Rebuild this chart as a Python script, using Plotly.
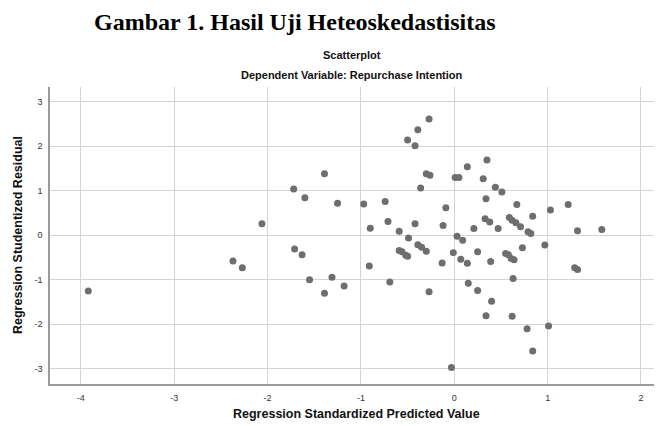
import plotly.graph_objects as go

# Regression Standardized Predicted Value (x) and Studentized Residual (y)
pred_values = [
    -3.92, -2.37, -2.27, -2.06, -1.72, -1.71, -1.63, -1.60, -1.55, -1.39,
    -1.39, -1.31, -1.25, -1.18, -0.97, -0.91, -0.90, -0.74, -0.71, -0.69,
    -0.59, -0.59, -0.56, -0.52, -0.50, -0.50, -0.49, -0.42, -0.42, -0.39,
    -0.39, -0.36, -0.35, -0.30, -0.30, -0.27, -0.27, -0.26, -0.13, -0.12,
    -0.09, -0.03, -0.01, 0.01, 0.03, 0.05, 0.07, 0.09, 0.14, 0.14,
    0.15, 0.21, 0.25, 0.25, 0.31, 0.33, 0.34, 0.34, 0.35, 0.38,
    0.39, 0.40, 0.44, 0.47, 0.51, 0.55, 0.58, 0.59, 0.61, 0.62,
    0.62, 0.63, 0.64, 0.66, 0.67, 0.71, 0.73, 0.78, 0.79, 0.82,
    0.84, 0.84, 0.97, 1.01, 1.03, 1.22, 1.29, 1.32, 1.32, 1.58,
]
resid_values = [
    -1.25, -0.58, -0.73, 0.26, 1.04, -0.31, -0.44, 0.84, -1.00, 1.38,
    -1.30, -0.94, 0.72, -1.14, 0.70, -0.69, 0.16, 0.76, 0.31, -1.05,
    0.09, -0.34, -0.37, -0.45, -0.47, 2.14, -0.06, 2.01, 0.26, 2.37,
    -0.21, 1.06, -0.27, 1.38, -0.36, 2.61, -1.27, 1.35, -0.62, 0.22,
    0.62, -2.97, -0.39, 1.30, -0.02, 1.30, -0.54, -0.11, 1.54, -0.63,
    -1.08, 0.15, -0.37, -1.24, 1.27, 0.37, 0.82, -1.81, 1.69, 0.30,
    -0.59, -1.48, 1.08, 0.15, 0.97, -0.41, -0.44, 0.40, -0.52, 0.34,
    -1.82, -0.97, -0.55, 0.28, 0.69, 0.19, -0.28, -2.10, 0.08, 0.04,
    0.43, -2.60, -0.22, -2.04, 0.57, 0.69, -0.73, -0.77, 0.10, 0.13,
]

x_tick_vals = [-4, -3, -2, -1, 0, 1, 2]
x_tick_text = ["-4", "-3", "-2", "-1", "0", "1", "2"]
y_tick_vals = [-3, -2, -1, 0, 1, 2, 3]
y_tick_text = ["-3", "-2", "-1", "0", "1", "2", "3"]

# page body has an 8px default margin; figure is sized to fit inside window
OFF = 8
W, H = 662 - OFF, 426 - OFF
PL, PR, PT, PB = 50 - OFF, 662 - OFF, 87 - OFF, 384 - OFF

fig = go.Figure()
fig.add_trace(go.Scatter(
    x=pred_values, y=resid_values, mode="markers",
    marker=dict(size=7, color="#6e6e6e", line=dict(width=0)),
    hoverinfo="x+y", showlegend=False,
))

grid_col = "#d4d4d4"
fig.update_xaxes(
    range=[-4.33, 2.225], tickvals=x_tick_vals, ticktext=x_tick_text,
    showgrid=True, gridcolor=grid_col, gridwidth=1.3, zeroline=False,
    showline=True, linecolor="#9a9a9a", linewidth=1.5,
    ticks="", ticklabelstandoff=4,
    tickfont=dict(family="Liberation Sans, Arial", size=9, color="#333333"),
)
fig.update_yaxes(
    range=[-3.34, 3.33], tickvals=y_tick_vals, ticktext=y_tick_text,
    showgrid=True, gridcolor=grid_col, gridwidth=1.3, zeroline=False,
    showline=True, linecolor="#9a9a9a", linewidth=1.5,
    ticks="", ticklabelstandoff=4,
    tickfont=dict(family="Liberation Sans, Arial", size=9, color="#333333"),
)

annotations = [
    dict(text="<b>Gambar 1. Hasil Uji Heteoskedastisitas</b>", x=295, y=22,
         font=dict(family="Liberation Serif, Times New Roman", size=24, color="#000000")),
    dict(text="<b>Scatterplot</b>", x=352, y=55,
         font=dict(family="Liberation Sans, Arial", size=11, color="#111111")),
    dict(text="<b>Dependent Variable: Repurchase Intention</b>", x=352, y=75,
         font=dict(family="Liberation Sans, Arial", size=11, color="#111111")),
    dict(text="<b>Regression Standardized Predicted Value</b>", x=356, y=414,
         font=dict(family="Liberation Sans, Arial", size=12.5, color="#111111")),
    dict(text="<b>Regression Studentized Residual</b>", x=18, y=235, textangle=-90,
         font=dict(family="Liberation Sans, Arial", size=12.5, color="#111111")),
]
for a in annotations:
    fx, fy = a["x"] - OFF, a["y"] - OFF
    fig.add_annotation(
        text=a["text"], xref="paper", yref="paper",
        x=(fx - PL) / (PR - PL), y=(PB - fy) / (PB - PT),
        xanchor="center", yanchor="middle", showarrow=False,
        textangle=a.get("textangle", 0), font=a["font"],
    )

fig.update_layout(
    width=W, height=H,
    margin=dict(l=PL, r=W - PR, t=PT, b=H - PB, pad=0),
    paper_bgcolor="white", plot_bgcolor="white",
)

fig.write_html("out.html")
